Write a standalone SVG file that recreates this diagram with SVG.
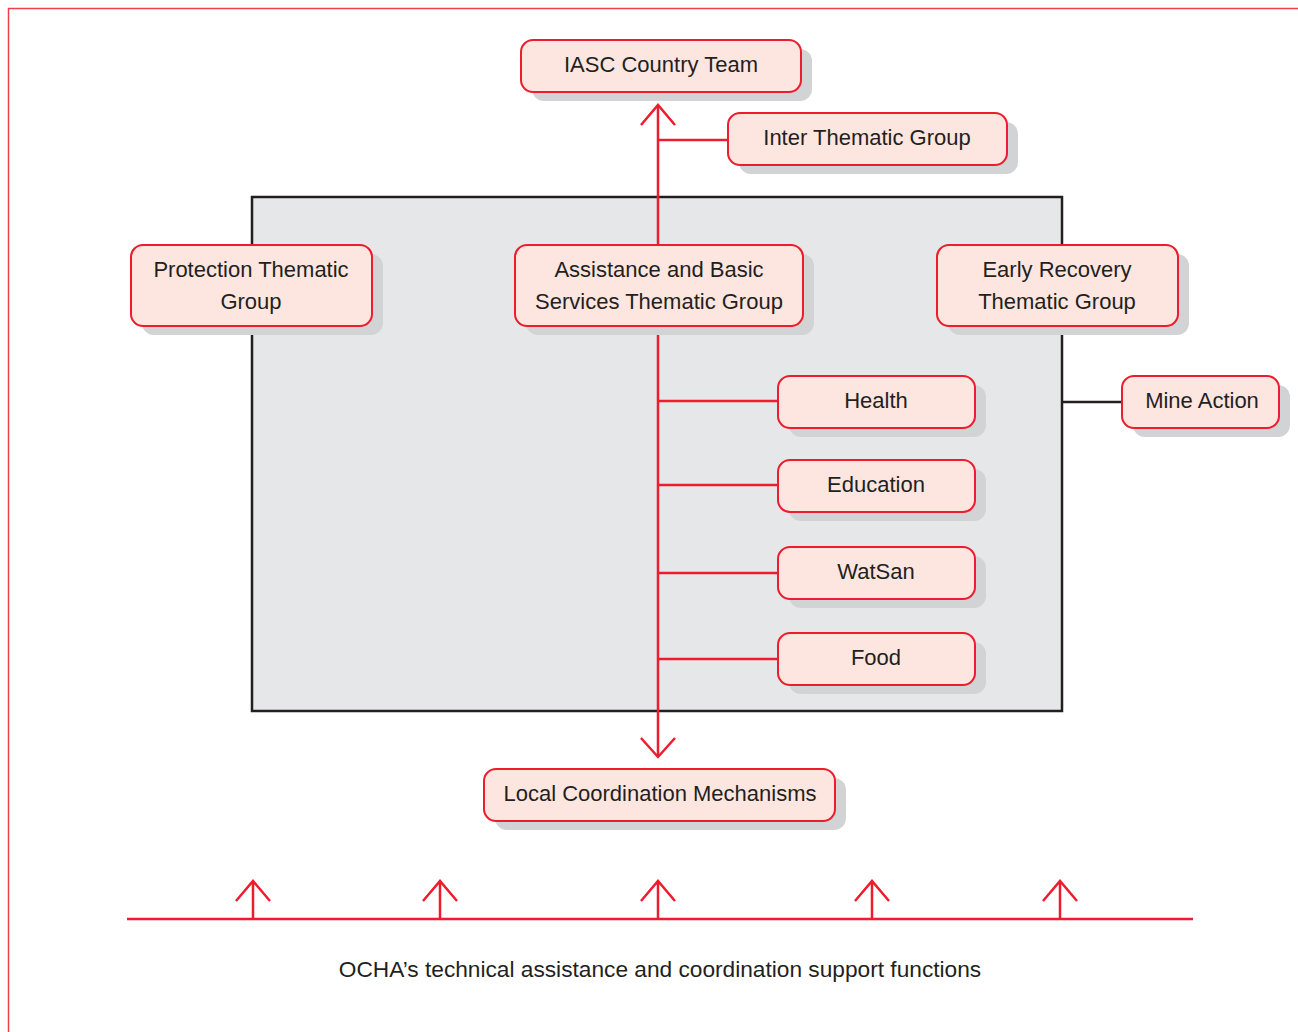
<svg xmlns="http://www.w3.org/2000/svg" width="1298" height="1032" viewBox="0 0 1298 1032">
<style>
.sh{fill:#d1d3d4}
.bx{fill:#fde6e0;stroke:#ed1c2e;stroke-width:2}
.t{font-family:"Liberation Sans",Arial,sans-serif;font-size:22px;fill:#231f20;text-anchor:middle}
.r{stroke:#ed1c2e;stroke-width:2.5;fill:none}
.k{stroke:#231f20;stroke-width:2.5;fill:none}
</style>
<rect width="1298" height="1032" fill="#fff"/>
<path d="M1298 8.5H8.5V1032" stroke="#ed1c2e" stroke-width="1.5" fill="none" opacity="0.85"/>
<rect x="252" y="197" width="810" height="514" fill="#e6e7e9" stroke="#231f20" stroke-width="2.5"/>
<g id="connectors">
<path class="r" d="M658 106V756"/>
<path class="r" d="M641 125L658 105L675 125"/>
<path class="r" d="M641 738L658 757L675 738"/>
<path class="r" d="M658 140H728"/>
<path class="r" d="M658 401H778M658 485H778M658 573H778M658 659H778"/>
<path class="k" d="M1062 402H1122"/>
<path class="r" d="M127 919H1193"/>
<path class="r" d="M253 919V882M236 901L253 881L270 901"/>
<path class="r" d="M440 919V882M423 901L440 881L457 901"/>
<path class="r" d="M658 919V882M641 901L658 881L675 901"/>
<path class="r" d="M872 919V882M855 901L872 881L889 901"/>
<path class="r" d="M1060 919V882M1043 901L1060 881L1077 901"/>
</g>
<g id="iasc"><rect class="sh" x="532" y="49" width="280" height="52" rx="12"/><rect class="bx" x="521" y="40" width="280" height="52" rx="12"/><text class="t" x="661" y="72">IASC Country Team</text></g>
<g id="inter"><rect class="sh" x="739" y="122" width="279" height="52" rx="12"/><rect class="bx" x="728" y="113" width="279" height="52" rx="12"/><text class="t" x="867" y="145">Inter Thematic Group</text></g>
<g id="protection"><rect class="sh" x="142" y="254" width="241" height="81" rx="12"/><rect class="bx" x="131" y="245" width="241" height="81" rx="12"/><text class="t" x="251" y="277">Protection Thematic</text><text class="t" x="251" y="309">Group</text></g>
<g id="assistance"><rect class="sh" x="526" y="254" width="288" height="81" rx="12"/><rect class="bx" x="515" y="245" width="288" height="81" rx="12"/><text class="t" x="659" y="277">Assistance and Basic</text><text class="t" x="659" y="309">Services Thematic Group</text></g>
<g id="early"><rect class="sh" x="948" y="254" width="241" height="81" rx="12"/><rect class="bx" x="937" y="245" width="241" height="81" rx="12"/><text class="t" x="1057" y="277">Early Recovery</text><text class="t" x="1057" y="309">Thematic Group</text></g>
<g id="mine"><rect class="sh" x="1133" y="385" width="157" height="52" rx="12"/><rect class="bx" x="1122" y="376" width="157" height="52" rx="12"/><text class="t" x="1202" y="408">Mine Action</text></g>
<g id="health"><rect class="sh" x="789" y="385" width="197" height="52" rx="12"/><rect class="bx" x="778" y="376" width="197" height="52" rx="12"/><text class="t" x="876" y="408">Health</text></g>
<g id="education"><rect class="sh" x="789" y="469" width="197" height="52" rx="12"/><rect class="bx" x="778" y="460" width="197" height="52" rx="12"/><text class="t" x="876" y="492">Education</text></g>
<g id="watsan"><rect class="sh" x="789" y="556" width="197" height="52" rx="12"/><rect class="bx" x="778" y="547" width="197" height="52" rx="12"/><text class="t" x="876" y="579">WatSan</text></g>
<g id="food"><rect class="sh" x="789" y="642" width="197" height="52" rx="12"/><rect class="bx" x="778" y="633" width="197" height="52" rx="12"/><text class="t" x="876" y="665">Food</text></g>
<g id="local"><rect class="sh" x="495" y="778" width="351" height="52" rx="12"/><rect class="bx" x="484" y="769" width="351" height="52" rx="12"/><text class="t" x="660" y="801">Local Coordination Mechanisms</text></g>
<text class="t" x="660" y="977" style="font-size:22.7px">OCHA’s technical assistance and coordination support functions</text>
</svg>
